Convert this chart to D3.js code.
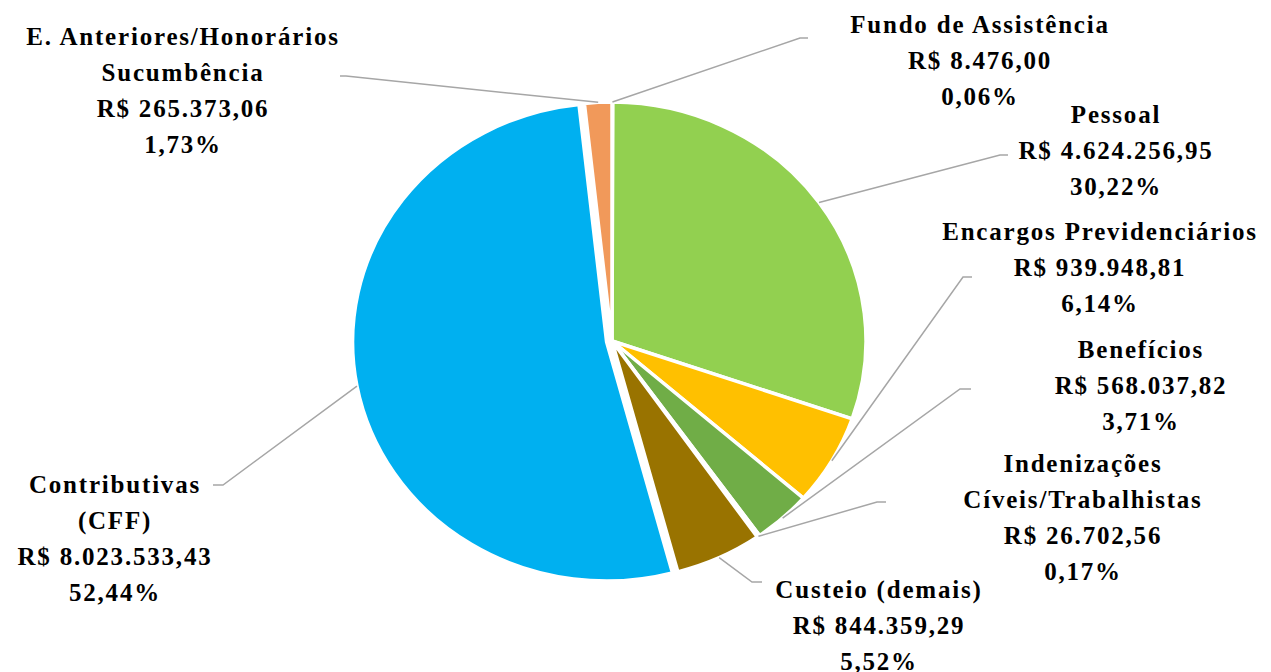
<!DOCTYPE html>
<html>
<head>
<meta charset="utf-8">
<script src="https://cdn.jsdelivr.net/npm/d3@7"></script>
<style>
  html, body { margin: 0; padding: 0; background: #fff; }
  svg { display: block; }
  .label text { font-family: "Palatino Linotype", "Book Antiqua", Palatino, "Liberation Serif", serif; font-weight: 700; font-size: 25px; letter-spacing: 1.8px; fill: #000; }
</style>
</head>
<body>
<svg id="chart" width="1271" height="672"></svg>
<script>
// data, clockwise from 12 o'clock
const categories = [
  "Fundo de Assistência",
  "Pessoal",
  "Encargos Previdenciários",
  "Benefícios",
  "Indenizações Cíveis/Trabalhistas",
  "Custeio (demais)",
  "Contributivas (CFF)",
  "E. Anteriores/Honorários Sucumbência",
];
const values = [8476.0, 4624256.95, 939948.81, 568037.82, 26702.56, 844359.29, 8023533.43, 265373.06];
const nameLines = [
  ["Fundo de Assistência"],
  ["Pessoal"],
  ["Encargos Previdenciários"],
  ["Benefícios"],
  ["Indenizações", "Cíveis/Trabalhistas"],
  ["Custeio (demais)"],
  ["Contributivas", "(CFF)"],
  ["E. Anteriores/Honorários", "Sucumbência"],
];
const colors = ["#4472C4", "#92D050", "#FFC000", "#70AD47", "#A5A5A5", "#997300", "#00B0F0", "#F1995A"];

// label placement (center x, first baseline) and leader stub [label end, elbow]
const labelLayout = [
  { x: 980, y: 33, stub: [[808, 38], [800, 38]] },
  { x: 1116, y: 123, stub: [[1008, 155], [1000, 155]] },
  { x: 1100, y: 240, stub: [[972, 277], [963, 277]] },
  { x: 1141, y: 358, stub: [[971, 389], [960, 389]] },
  { x: 1083, y: 472, stub: [[886, 502], [877, 502]] },
  { x: 879, y: 598, stub: [[762, 582], [752, 582]] },
  { x: 115, y: 493, stub: [[213, 485], [223, 485]] },
  { x: 183, y: 45, stub: [[340, 76], [346, 76]] },
];

const cx = 612, cy = 341, ry = 239, rx = 254;
const sx = rx / ry;
const explodedSlice = "Contributivas (CFF)";
const explodeDist = 5.5;
const lineHeight = 36;

const br = d3.formatLocale({ decimal: ",", thousands: ".", grouping: [3], currency: ["R$ ", ""] });
const fmtMoney = br.format("$,.2f");
const fmtPct = br.format(",.2f");

const total = d3.sum(values);
const data = categories.map((c, i) => ({ name: c, value: values[i], color: colors[i], lines: nameLines[i], layout: labelLayout[i] }));

const svg = d3.select("#chart");

const pie = d3.pie().sort(null).value((d) => d.value).startAngle(0).endAngle(2 * Math.PI);
const arcs = pie(data);
const arc = d3.arc().innerRadius(0).outerRadius(ry);
const edge = d3.arc().innerRadius(ry).outerRadius(ry);

// offset of a slice in screen px
const offset = (d) => {
  if (d.data.name !== explodedSlice) return [0, 0];
  const a = (d.startAngle + d.endAngle) / 2;
  return [Math.sin(a) * explodeDist, -Math.cos(a) * explodeDist];
};

const pieG = svg.append("g")
  .attr("class", "pie")
  .attr("transform", `translate(${cx},${cy}) scale(${sx},1)`);

pieG.selectAll(".slice")
  .data(arcs)
  .join("path")
  .attr("class", "slice")
  .attr("d", arc)
  .attr("transform", (d) => {
    const [ox, oy] = offset(d);
    return `translate(${ox / sx},${oy})`;
  })
  .attr("fill", (d) => d.data.color)
  .attr("stroke", "#fff")
  .attr("stroke-width", 3.5)
  .attr("vector-effect", "non-scaling-stroke");

// leader lines
const leaderPoint = (d) => {
  const [x, y] = edge.centroid(d);
  const [ox, oy] = offset(d);
  return [cx + x * sx + ox, cy + y + oy];
};

svg.append("g")
  .attr("class", "leaders")
  .selectAll("path")
  .data(arcs)
  .join("path")
  .attr("d", (d) => d3.line()([...d.data.layout.stub, leaderPoint(d)]))
  .attr("fill", "none")
  .attr("stroke", "#A6A6A6")
  .attr("stroke-width", 1.5);

// labels
const labels = svg.append("g")
  .selectAll(".label")
  .data(arcs)
  .join("g")
  .attr("class", "label");

labels.selectAll("text")
  .data((d) => {
    const lines = [
      ...d.data.lines,
      fmtMoney(d.data.value),
      fmtPct((d.data.value / total) * 100) + "%",
    ];
    return lines.map((t, i) => ({ t, x: d.data.layout.x, y: d.data.layout.y + i * lineHeight }));
  })
  .join("text")
  .attr("x", (d) => d.x)
  .attr("y", (d) => d.y)
  .attr("text-anchor", "middle")
  .text((d) => d.t);
</script>
</body>
</html>
